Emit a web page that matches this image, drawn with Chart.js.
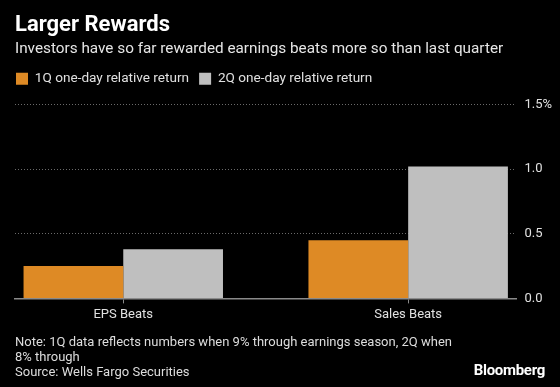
<!DOCTYPE html>
<html>
<head>
<meta charset="utf-8">
<script src="https://cdn.jsdelivr.net/npm/chart.js@4"></script>
<style>
  html, body { margin: 0; padding: 0; background: #000; }
  body { width: 560px; height: 387px; position: relative; overflow: hidden; font-family: Roboto, sans-serif; }
  #chart { position: absolute; left: 0; top: 0; }
  .txt { position: absolute; left: 15px; color: #e6e6e6; white-space: nowrap; }
  #title { top: 11px; font-size: 22px; font-weight: bold; color: #fff; }
  #sub { top: 39px; font-size: 15.3px; }
  #note { top: 334px; font-size: 13px; line-height: 15px; color: #ddd; }
  #logo { position: absolute; right: 15px; top: 361px; font-size: 15px; font-weight: bold; color: #fff; letter-spacing: -0.3px; }
</style>
</head>
<body>
<canvas id="chart" width="560" height="387"></canvas>
<div class="txt" id="title">Larger Rewards</div>
<div class="txt" id="sub">Investors have so far rewarded earnings beats more so than last quarter</div>
<div class="txt" id="note">Note: 1Q data reflects numbers when 9% through earnings season, 2Q when<br>8% through<br>Source: Wells Fargo Securities</div>
<div id="logo">Bloomberg</div>
<script>
// Data
const categories = ["EPS Beats", "Sales Beats"];
const q1Return = [0.25, 0.45];
const q2Return = [0.38, 1.02];
const yTicks = [0, 0.5, 1.0, 1.5];

const toPoints = (vals) => vals.map((v, i) => ({ x: i, y: v }));

// legend sits a bit further left and leaves more room below it
const legendTweak = {
  id: "legendTweak",
  beforeInit(chart) {
    const lg = chart.legend;
    const fit = lg.fit;
    lg.fit = function () { fit.call(this); this.height += 9; };
  },
  afterLayout(chart) {
    chart.legend.left -= 9;
    chart.legend.right -= 9;
  }
};

new Chart(document.getElementById("chart"), {
  type: "bar",
  data: {
    datasets: [
      { label: "1Q one-day relative return", data: toPoints(q1Return), backgroundColor: "#de8a25", borderWidth: 0 },
      { label: "2Q one-day relative return", data: toPoints(q2Return), backgroundColor: "#bfbfbf", borderWidth: 0 }
    ]
  },
  options: {
    responsive: false,
    animation: false,
    devicePixelRatio: 1,
    layout: { padding: { top: 62, left: 15, right: 0, bottom: 60 } },
    categoryPercentage: 0.7,
    barPercentage: 1.0,
    plugins: {
      tooltip: { enabled: false },
      legend: {
        align: "start",
        labels: {
          boxWidth: 12, boxHeight: 12, padding: 10,
          color: "#e0e0e0",
          font: { family: "Roboto", size: 13.6 }
        }
      }
    },
    scales: {
      x: {
        type: "linear",
        min: -0.38, max: 1.38,
        offset: false,
        afterBuildTicks: (s) => { s.ticks = categories.map((c, i) => ({ value: i })); },
        ticks: {
          callback: (v) => categories[v],
          color: "#e0e0e0", font: { family: "Roboto", size: 13 },
          maxRotation: 0, autoSkip: false, padding: 4
        },
        grid: { drawOnChartArea: false, offset: false, color: "#8a8a8a", tickLength: 5 },
        border: { color: "#8a8a8a", width: 1.5 }
      },
      y: {
        position: "right",
        min: 0, max: 1.5,
        afterBuildTicks: (s) => { s.ticks = yTicks.map((v) => ({ value: v })); },
        ticks: {
          callback: (v) => v === 1.5 ? "1.5%" : v.toFixed(1),
          color: "#e0e0e0", font: { family: "Roboto", size: 13 },
          padding: 8
        },
        grid: { color: "#6a6a6a", drawTicks: false },
        border: { display: false, dash: [1, 2] }
      }
    }
  },
  plugins: [legendTweak]
});
</script>
</body>
</html>
